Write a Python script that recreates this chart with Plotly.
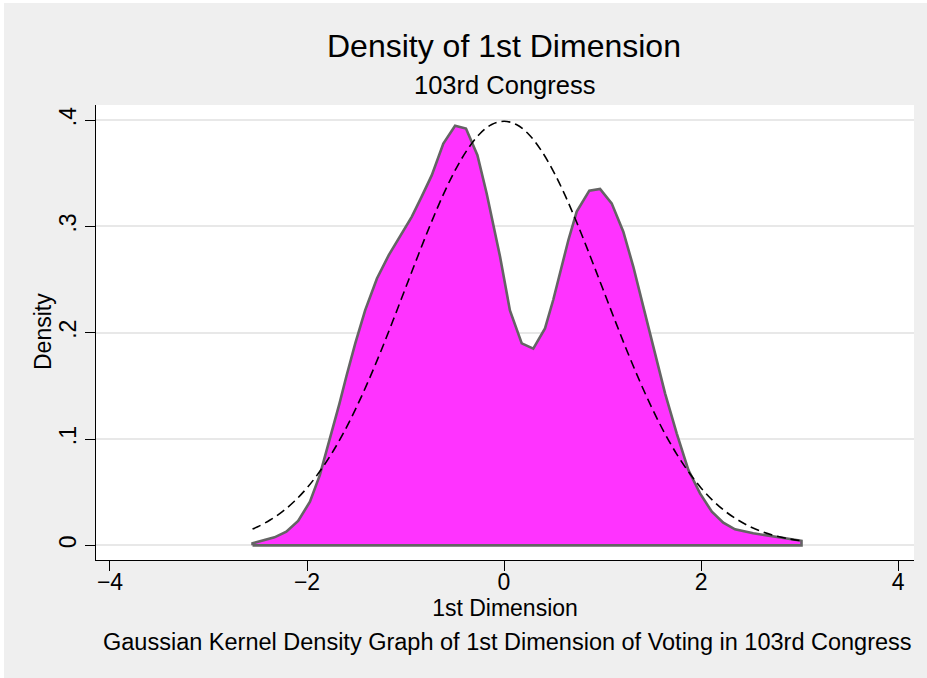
import plotly.graph_objects as go

# Kernel density estimate
kde_x = [-2.553, -2.33, -2.21, -2.09, -1.97, -1.87, -1.77, -1.67, -1.60, -1.51,
         -1.41, -1.29, -1.17, -1.056, -0.937, -0.836, -0.734, -0.616, -0.497, -0.386,
         -0.27, -0.176, -0.04, 0.06, 0.18, 0.297, 0.416, 0.50, 0.585, 0.653,
         0.738, 0.866, 0.975, 1.093, 1.211, 1.313, 1.414, 1.516, 1.635, 1.753,
         1.872, 1.99, 2.11, 2.226, 2.345, 2.53, 2.77, 3.02]
kde_y = [0.002, 0.0075, 0.0128, 0.023, 0.041, 0.066, 0.099, 0.1335, 0.159, 0.190,
         0.221, 0.251, 0.273, 0.290, 0.309, 0.328, 0.348, 0.378, 0.3947, 0.392,
         0.367, 0.331, 0.2715, 0.221, 0.190, 0.185, 0.204, 0.231, 0.261, 0.287,
         0.314, 0.3336, 0.3352, 0.3217, 0.295, 0.262, 0.2245, 0.1868, 0.143, 0.1054,
         0.0708, 0.0489, 0.0316, 0.0213, 0.015, 0.0113, 0.0081, 0.0043]

# Normal density reference curve
norm_x = [-2.553, -2.5, -2.375, -2.25, -2.125, -2.0, -1.875, -1.75, -1.625, -1.5,
          -1.375, -1.25, -1.125, -1.0, -0.875, -0.75, -0.625, -0.5, -0.375, -0.25,
          -0.125, 0.0, 0.125, 0.25, 0.375, 0.5, 0.625, 0.75, 0.875, 1.0,
          1.125, 1.25, 1.375, 1.5, 1.625, 1.75, 1.875, 2.0, 2.125, 2.25,
          2.375, 2.5, 2.625, 2.75, 2.875, 3.02]
norm_y = [0.0154, 0.0175, 0.0238, 0.0317, 0.0417, 0.0540, 0.0689, 0.0863, 0.1065, 0.1295,
          0.1550, 0.1826, 0.2119, 0.2420, 0.2720, 0.3011, 0.3282, 0.3521, 0.3718, 0.3867,
          0.3958, 0.3989, 0.3958, 0.3867, 0.3718, 0.3521, 0.3282, 0.3011, 0.2720, 0.2420,
          0.2119, 0.1826, 0.1550, 0.1295, 0.1065, 0.0863, 0.0689, 0.0540, 0.0417, 0.0317,
          0.0238, 0.0175, 0.0127, 0.0091, 0.0064, 0.0042]

x_ticks = [-4, -2, 0, 2, 4]
x_tick_labels = ["\u22124", "\u22122", "0", "2", "4"]
y_ticks = [0, 0.1, 0.2, 0.3, 0.4]
y_tick_labels = ["0", ".1", ".2", ".3", ".4"]

title_text = "Density of 1st Dimension"
subtitle_text = "103rd Congress"
caption_text = "Gaussian Kernel Density Graph of 1st Dimension of Voting in 103rd Congress"
x_title = "1st Dimension"
y_title = "Density"

FONT = "Liberation Sans, Arial, Helvetica, sans-serif"

# closed polygon for the area
poly_x = [kde_x[0]] + kde_x + [kde_x[-1], kde_x[0]]
poly_y = [0] + kde_y + [0, 0]

fig = go.Figure()
fig.add_trace(go.Scatter(
    x=poly_x, y=poly_y, mode="lines", fill="toself",
    fillcolor="#FF33FF", line=dict(color="#646464", width=2.6),
    hoverinfo="skip", showlegend=False))
fig.add_trace(go.Scatter(
    x=norm_x, y=norm_y, mode="lines", line_shape="spline",
    line=dict(color="black", width=1.6, dash="9px,5px"),
    showlegend=False))

L, R, T, B = 96, 13, 105, 118
W, H = 927, 678
pw, ph = W - L - R, H - T - B


def px(xp):
    return (xp - L) / pw


def py(yp):
    return (H - B - yp) / ph


fig.update_layout(
    width=W, height=H,
    margin=dict(l=L, r=R, t=T, b=B, pad=0),
    paper_bgcolor="#EFEFEF", plot_bgcolor="white",
    font=dict(family=FONT, color="black", size=23),
    showlegend=False,
    xaxis=dict(range=[-4.142, 4.162], tickmode="array", tickvals=x_ticks,
               ticktext=x_tick_labels, ticks="outside", ticklen=10, tickwidth=1.3,
               tickcolor="black", showline=True, linecolor="black", linewidth=1.3,
               showgrid=False, zeroline=False, tickfont=dict(size=23),
               ticklabelstandoff=-9,
               title=dict(text=x_title, font=dict(size=23), standoff=4)),
    yaxis=dict(range=[-0.0138, 0.4142], tickmode="array", tickvals=y_ticks,
               ticktext=y_tick_labels, tickangle=-90, ticks="outside", ticklen=10,
               tickwidth=1.3, tickcolor="black", showline=True, linecolor="black",
               linewidth=1.3, showgrid=True, gridcolor="#E8E8E8", gridwidth=1.5,
               zeroline=False, tickfont=dict(size=23)),
    annotations=[
        dict(text=title_text, xref="paper", yref="paper", x=px(504), y=py(46),
             xanchor="center", yanchor="middle", showarrow=False,
             font=dict(size=32, family=FONT)),
        dict(text=subtitle_text, xref="paper", yref="paper", x=px(504), y=py(85),
             xanchor="center", yanchor="middle", showarrow=False,
             font=dict(size=25.5, family=FONT)),
        dict(text=caption_text, xref="paper", yref="paper", x=px(507.5), y=py(642),
             xanchor="center", yanchor="middle", showarrow=False,
             font=dict(size=23.5, family=FONT)),
        dict(text=y_title, xref="paper", yref="paper", x=px(43), y=py(332),
             xanchor="center", yanchor="middle", showarrow=False, textangle=-90,
             font=dict(size=23, family=FONT)),
    ],
    shapes=[
        dict(type="line", xref="paper", yref="paper", x0=px(0), x1=px(W),
             y0=py(0), y1=py(0), line=dict(color="white", width=6)),
        dict(type="line", xref="paper", yref="paper", x0=px(0), x1=px(0),
             y0=py(0), y1=py(H), line=dict(color="white", width=8)),
    ],
)

fig.write_html("out.html", config={"displayModeBar": False},
               post_script="document.body.style.margin='0';document.body.style.padding='0';")
